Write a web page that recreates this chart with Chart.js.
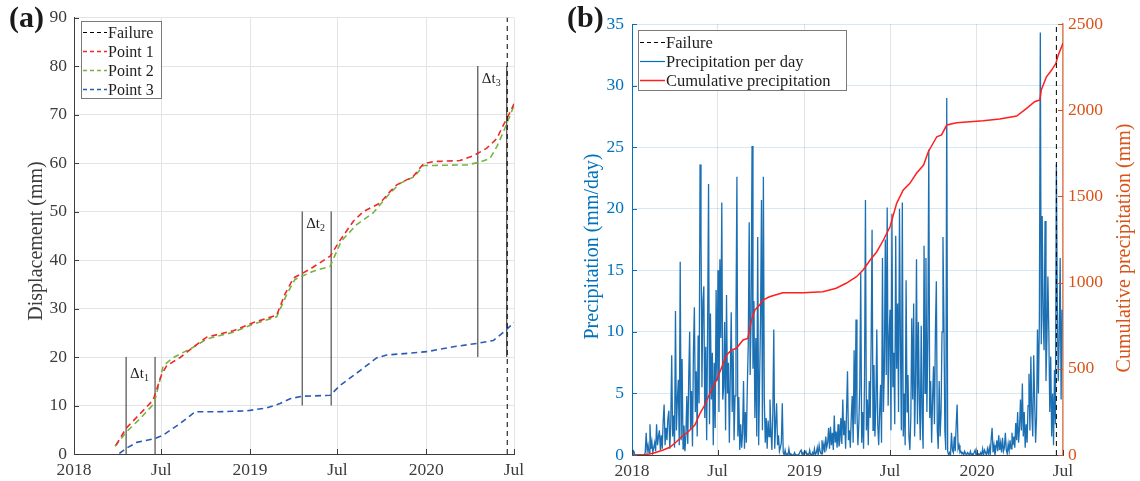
<!DOCTYPE html>
<html>
<head>
<meta charset="utf-8">
<script src="https://cdn.jsdelivr.net/npm/chart.js@4.4.1/dist/chart.umd.min.js"></script>
<style>
  html, body { margin: 0; padding: 0; background: #fff; }
  #wrap { position: relative; width: 1140px; height: 481px; }
  #chartA { position: absolute; left: 0; top: 0; }
  #chartB { position: absolute; left: 560px; top: 0; }
</style>
</head>
<body>
<div id="wrap">
  <canvas id="chartA" width="560" height="481"></canvas>
  <canvas id="chartB" width="580" height="481"></canvas>
</div>
<script>
// x values are days since 2018-01-01
const tickDays = [0, 181, 365, 546, 730, 912];
const tickLabels = ['2018', 'Jul', '2019', 'Jul', '2020', 'Jul'];
const failureDay = 898;

// (a) displacement (mm)
const p1Days = [87, 108, 137, 164, 182, 192, 220, 247, 275, 330, 372, 420, 437, 455, 489, 531, 551, 579, 600, 634, 655, 669, 703, 714, 724, 745, 800, 828, 855, 876, 890, 904, 912];
const p1Values = [1.8, 5.3, 8.3, 11.1, 16.5, 18.2, 19.9, 22.0, 24.1, 25.4, 27.1, 28.6, 32.9, 36.3, 38.1, 40.8, 44.0, 48.0, 50.0, 51.7, 54.1, 55.5, 57.2, 58.6, 59.8, 60.3, 60.5, 61.5, 63.0, 65.0, 67.8, 70.5, 72.2];
const p2Days = [85, 109, 137, 166, 178, 185, 206, 247, 275, 330, 372, 420, 441, 458, 496, 531, 554, 586, 620, 655, 676, 706, 724, 745, 814, 838, 862, 876, 890, 904, 912];
const p2Values = [1.6, 4.6, 7.3, 10.4, 15.2, 18.2, 19.9, 22.0, 23.7, 25.1, 26.8, 28.3, 32.9, 36.0, 37.7, 38.7, 43.9, 47.3, 49.7, 53.8, 55.8, 57.2, 59.5, 59.5, 59.6, 60.1, 60.9, 63.3, 66.4, 69.8, 71.9];
const p3Days = [94, 109, 130, 168, 185, 220, 251, 296, 358, 399, 427, 448, 472, 531, 551, 593, 627, 648, 696, 731, 786, 835, 869, 890, 912];
const p3Values = [0.1, 1.2, 2.4, 3.2, 3.9, 6.3, 8.7, 8.7, 8.9, 9.5, 10.4, 11.4, 11.9, 12.1, 14.1, 17.2, 19.8, 20.4, 20.8, 21.1, 22.1, 22.8, 23.4, 25.1, 27.1];

// delta-t markers
const dtStart = [108, 473, 837];
const dtEnd = [168, 533, 897];
const dtLow = [0, 10, 20];
const dtHigh = [20, 50, 80];
const dtLabelBase = [15.6, 46.6, 76.5];
const dtNames = ['1', '2', '3'];

// (b) precipitation per day (mm/day), one value every 2 days from 2018-01-01
const precipStepDays = 2;
const precipValues = [
  0, 0.4, 0.3, 0, 0, 0, 0, 0, 0, 0, 0, 0, 0, 0, 0.2,
  1.8, 0.3, 0.8, 0.2, 2.5, 0.5, 1.1, 0.2, 0.6, 1.0, 0.3, 2.5, 0.8, 1.5, 2.0,
  0.4, 1.6, 0.5, 2.8, 4.1, 0.8, 2.2, 1.2, 3.0, 3.6, 0.5, 2.5, 8.1, 1.5, 3.2,
  0.6, 11.7, 2.0, 4.5, 6.1, 0.8, 15.7, 1.2, 7.8, 0.5, 2.4, 0.3, 1.6, 4.8, 0.9,
  6.2, 10.0, 2.1, 5.2, 0.7, 8.5, 12.0, 3.5, 6.8, 1.5, 9.7, 4.2, 23.6, 18.0, 5.5,
  12.5, 13.7, 3.0, 8.8, 1.2, 10.5, 22.0, 2.5, 11.5, 4.5, 8.3, 0.8, 7.5, 2.2, 13.4,
  6.0, 15.0, 3.5, 15.9, 9.5, 20.5, 4.5, 5.5, 10.8, 2.0, 13.0, 5.0, 7.5, 1.0, 6.5,
  11.6, 3.5, 8.5, 1.2, 4.8, 11.0, 22.6, 1.5, 4.7, 0.4, 2.5, 0.6, 1.8, 6.0, 0.5,
  3.5, 1.0, 5.5, 9.0, 18.9, 6.5, 11.0, 25.1, 7.0, 12.5, 3.0, 9.5, 1.5, 17.7, 0.8,
  6.0, 11.0, 20.7, 2.0, 22.6, 4.5, 1.0, 3.0, 0.5, 2.8, 1.5, 4.5, 2.0, 0.4, 3.5,
  10.2, 0.5, 2.5, 4.2, 0.8, 1.6, 0.3, 0.6, 1.0, 4.2, 0.2, 0, 0.4, 0, 0.1,
  0, 0.5, 0, 0.1, 0, 0, 0, 0.2, 0, 0, 0, 0, 0.1, 0.3, 0.4,
  0, 0.2, 0, 0, 0.3, 0, 0.1, 0, 0.4, 0, 0, 0.2, 0, 0.5, 0,
  0.2, 0.6, 0, 0.8, 0.3, 0.1, 1.2, 0.4, 0.9, 0.2, 1.5, 0.6, 1.0, 2.2, 0.5,
  2.3, 0.8, 1.8, 0.4, 3.2, 1.0, 1.9, 0.6, 2.5, 0.7, 1.2, 3.0, 0.9, 4.5, 1.6,
  2.8, 0.5, 3.5, 6.8, 1.2, 2.0, 0.6, 3.1, 4.8, 1.0, 8.5, 2.5, 11.0, 3.5, 0.8,
  2.5, 5.5, 14.8, 1.0, 3.5, 0.5, 6.0, 20.7, 2.0, 4.5, 0.8, 6.0, 3.0, 9.0, 18.3,
  2.0, 7.3, 1.5, 4.0, 10.2, 2.5, 0.8, 3.5, 5.7, 1.0, 16.0, 3.5, 7.0, 17.5, 6.5,
  20.1, 4.0, 9.5, 11.8, 2.0, 19.6, 5.5, 8.3, 2.5, 17.8, 7.0, 12.3, 3.5, 20.0, 9.0,
  2.0, 20.5, 1.5, 5.0, 0.8, 14.2, 3.5, 6.5, 1.5, 0.4, 3.0, 11.1, 4.5, 12.3, 1.5,
  6.0, 15.9, 2.5, 10.8, 4.5, 1.2, 10.5, 3.0, 0.5, 17.0, 5.0, 16.0, 3.5, 9.5, 24.8,
  3.0, 6.0, 1.0, 4.5, 7.2, 2.5, 10.0, 14.1, 2.0, 0.5, 6.0, 1.5, 3.5, 10.0, 17.7,
  11.1, 2.0, 0.4, 29.0, 0.3, 0, 0.2, 0, 1.8, 0.4, 0.2, 1.5, 0.3, 2.5, 4.1,
  0.5, 0.8, 0.2, 0.3, 0.1, 0.2, 0, 0.3, 0.1, 0, 0.2, 0.1, 0, 0.3, 0,
  0.1, 0, 0.2, 0.4, 0, 0.3, 0, 0.1, 0, 0.2, 0, 0.5, 0, 0.4, 0.2,
  0, 0.5, 0.1, 0.6, 0, 1.3, 2.2, 0.2, 0.8, 0, 0.5, 1.2, 0.3, 1.6, 0.4,
  1.0, 0.2, 1.4, 0.3, 0.6, 1.8, 0.4, 0.1, 0.9, 0.3, 1.2, 0.5, 1.8, 0.8, 1.5,
  0.6, 2.6, 1.2, 3.5, 1.0, 2.2, 4.5, 2.0, 5.8, 1.5, 3.5, 0.6, 2.5, 1.0, 4.0,
  6.6, 2.0, 8.0, 3.5, 1.5, 8.1, 4.5, 1.0, 3.0, 10.2, 5.0, 11.0, 34.3, 9.0, 19.4,
  11.0, 8.5, 19.0, 6.0, 9.5, 14.5, 10.0, 3.5, 8.0, 1.5, 5.0, 0.8, 6.9, 2.5, 23.6,
  12.0, 6.0, 9.5, 16.0, 4.5, 11.8
];

// (b) cumulative precipitation (mm)
const cumDays = [0, 25, 45, 66, 80, 94, 105, 119, 133, 144, 154, 165, 179, 189, 200, 211, 221, 235, 245, 252, 260, 270, 277, 291, 319, 362, 404, 432, 453, 475, 489, 504, 518, 532, 546, 560, 574, 588, 602, 617, 627, 645, 655, 666, 687, 743, 778, 814, 835, 852, 863, 866, 877, 888, 897, 902, 912];
const cumValues = [0, 0, 10, 29, 45, 77, 106, 135, 174, 242, 290, 358, 435, 503, 580, 609, 619, 667, 676, 773, 841, 870, 899, 918, 941, 941, 947, 967, 996, 1034, 1073, 1131, 1179, 1247, 1324, 1460, 1537, 1576, 1634, 1682, 1759, 1846, 1857, 1914, 1927, 1939, 1949, 1966, 2011, 2049, 2059, 2117, 2194, 2233, 2272, 2320, 2388];

// ---- styling ----
const serif = '"Liberation Serif", "Times New Roman", serif';
const axisGray = '#3c3c3c';
const gridGray = '#e4e4e4';
const blue = '#0072BD';
const orange = '#D95319';
const tickFont = { family: serif, size: 17.5 };

const xy = (xs, ys) => xs.map((x, i) => ({ x: x, y: ys[i] }));

function lineSet(label, data, color, width, dash, extra) {
  return Object.assign({
    label: label, data: data, borderColor: color, backgroundColor: color,
    borderWidth: width, borderDash: dash || [], pointRadius: 0, tension: 0, fill: false
  }, extra || {});
}

function xScale(height) {
  return {
    type: 'linear', min: 0, max: 912,
    afterBuildTicks: a => { a.ticks = tickDays.map(v => ({ value: v })); },
    afterFit: s => { s.height = height; },
    ticks: { autoSkip: false, maxRotation: 0, padding: 6, color: axisGray, font: tickFont,
             callback: v => tickLabels[tickDays.indexOf(v)] },
    grid: { color: gridGray, drawTicks: false },
    border: { color: axisGray, width: 1 }
  };
}

function inwardTicks(chart, specs) {
  const ctx = chart.ctx, a = chart.chartArea;
  specs.forEach(s => {
    const sc = chart.scales[s.id];
    ctx.save();
    ctx.strokeStyle = s.color;
    ctx.lineWidth = 1;
    ctx.beginPath();
    sc.ticks.forEach(t => {
      const p = Math.round(sc.getPixelForValue(t.value)) + 0.5;
      if (s.side === 'bottom') { ctx.moveTo(p, a.bottom); ctx.lineTo(p, a.bottom - 5); }
      else if (s.side === 'left') { ctx.moveTo(a.left, p); ctx.lineTo(a.left + 5, p); }
      else { ctx.moveTo(a.right, p); ctx.lineTo(a.right - 5, p); }
    });
    ctx.stroke();
    ctx.restore();
  });
}

function vTitle(ctx, text, x, y, color) {
  ctx.save();
  ctx.translate(x, y);
  ctx.rotate(-Math.PI / 2);
  ctx.font = '20px ' + serif;
  ctx.fillStyle = color;
  ctx.textAlign = 'center';
  ctx.textBaseline = 'alphabetic';
  ctx.fillText(text, 0, 0);
  ctx.restore();
}

function panelLabel(ctx, text, x, y) {
  ctx.save();
  ctx.font = 'bold 30px ' + serif;
  ctx.fillStyle = '#1a1a1a';
  ctx.textBaseline = 'alphabetic';
  ctx.fillText(text, x, y);
  ctx.restore();
}

function drawLegend(ctx, box, items, font) {
  ctx.save();
  ctx.fillStyle = '#fff';
  ctx.fillRect(box.x, box.y, box.w, box.h);
  ctx.strokeStyle = '#7a7a7a';
  ctx.lineWidth = 1;
  ctx.strokeRect(box.x + 0.5, box.y + 0.5, box.w, box.h);
  ctx.font = font + 'px ' + serif;
  ctx.textBaseline = 'middle';
  items.forEach((it, i) => {
    const y = box.y + box.first + i * box.step;
    ctx.strokeStyle = it.color;
    ctx.lineWidth = it.width;
    ctx.setLineDash(it.dash || []);
    ctx.beginPath();
    ctx.moveTo(box.x + 2, y);
    ctx.lineTo(box.x + box.sample, y);
    ctx.stroke();
    ctx.setLineDash([]);
    ctx.fillStyle = '#1e1e1e';
    ctx.fillText(it.text, box.x + box.sample + 1, y + 1);
  });
  ctx.restore();
}

// ---- (a) displacement ----
const dtSets = [];
dtStart.forEach((d, i) => {
  dtSets.push(lineSet('dt' + i + 'a', xy([d, d], [dtLow[i], dtHigh[i]]), '#2b2b2b', 1));
  dtSets.push(lineSet('dt' + i + 'b', xy([dtEnd[i], dtEnd[i]], [dtLow[i], dtHigh[i]]), '#2b2b2b', 1));
});

const decorA = {
  id: 'decorA',
  afterDraw(chart) {
    const ctx = chart.ctx;
    const sx = chart.scales.x, sy = chart.scales.y;
    inwardTicks(chart, [{ id: 'x', side: 'bottom', color: axisGray }, { id: 'y', side: 'left', color: axisGray }]);
    vTitle(ctx, 'Displacement (mm)', 42, 241, axisGray);
    panelLabel(ctx, '(a)', 9, 27);
    // delta-t labels
    ctx.save();
    ctx.fillStyle = '#1e1e1e';
    ctx.textBaseline = 'alphabetic';
    dtStart.forEach((d, i) => {
      const x = sx.getPixelForValue(d) + 4;
      const y = sy.getPixelForValue(dtLabelBase[i]);
      ctx.font = '15px ' + serif;
      ctx.fillText('\u0394t', x, y);
      const w = ctx.measureText('\u0394t').width;
      ctx.font = '10px ' + serif;
      ctx.fillText(dtNames[i], x + w, y + 3);
    });
    ctx.restore();
    drawLegend(ctx, { x: 81, y: 21, w: 80, h: 77, first: 11.5, step: 19, sample: 26 }, [
      { text: 'Failure', color: '#000', width: 1, dash: [4, 3] },
      { text: 'Point 1', color: '#f02828', width: 1.5, dash: [4, 3] },
      { text: 'Point 2', color: '#77b340', width: 1.5, dash: [4, 3] },
      { text: 'Point 3', color: '#2a5cb5', width: 1.5, dash: [4, 3] }
    ], 16);
  }
};

new Chart(document.getElementById('chartA'), {
  type: 'line',
  data: {
    datasets: [
      lineSet('Failure', xy([failureDay, failureDay], [0, 90]), '#000', 1, [5, 4]),
      lineSet('Point 1', xy(p1Days, p1Values), '#f02828', 1.6, [6, 4]),
      lineSet('Point 2', xy(p2Days, p2Values), '#77b340', 1.6, [6, 4]),
      lineSet('Point 3', xy(p3Days, p3Values), '#2a5cb5', 1.6, [6, 4])
    ].concat(dtSets)
  },
  options: {
    animation: false,
    responsive: false,
    events: [],
    layout: { padding: { top: 15, right: 46, left: 0, bottom: 0 } },
    plugins: { legend: { display: false }, tooltip: { enabled: false } },
    scales: {
      x: xScale(27),
      y: {
        min: 0, max: 90,
        afterFit: s => { s.width = 74; },
        ticks: { stepSize: 10, padding: 7, color: axisGray, font: tickFont },
        grid: { color: gridGray, drawTicks: false },
        border: { color: axisGray, width: 1 }
      }
    }
  },
  plugins: [decorA]
});

// ---- (b) precipitation ----
const precipPoints = precipValues.map((v, i) => ({ x: i * precipStepDays, y: v }));

const decorB = {
  id: 'decorB',
  afterDraw(chart) {
    const ctx = chart.ctx;
    inwardTicks(chart, [
      { id: 'x', side: 'bottom', color: axisGray },
      { id: 'y', side: 'left', color: blue },
      { id: 'y1', side: 'right', color: orange }
    ]);
    vTitle(ctx, 'Precipitation (mm/day)', 38, 246.5, blue);
    vTitle(ctx, 'Cumulative precipitation (mm)', 570, 248, orange);
    panelLabel(ctx, '(b)', 7, 27);
    drawLegend(ctx, { x: 78, y: 30, w: 208, h: 60, first: 12.5, step: 19, sample: 27 }, [
      { text: 'Failure', color: '#000', width: 1, dash: [4, 3] },
      { text: 'Precipitation per day', color: blue, width: 1.2 },
      { text: 'Cumulative precipitation', color: '#ff1f1f', width: 1.5 }
    ], 16.5);
  }
};

new Chart(document.getElementById('chartB'), {
  type: 'line',
  data: {
    datasets: [
      lineSet('Failure', xy([failureDay, failureDay], [0, 35]), '#000', 1, [5, 4], { yAxisID: 'y' }),
      lineSet('Cumulative precipitation', xy(cumDays, cumValues), '#ff1f1f', 1.5, [], { yAxisID: 'y1' }),
      lineSet('Precipitation per day', precipPoints, '#1b6fb3', 1.3, [], { yAxisID: 'y' })
    ]
  },
  options: {
    animation: false,
    responsive: false,
    events: [],
    layout: { padding: { top: 24, right: 0, left: 0, bottom: 0 } },
    plugins: { legend: { display: false }, tooltip: { enabled: false } },
    scales: {
      x: xScale(26),
      y: {
        position: 'left', min: 0, max: 35,
        afterFit: s => { s.width = 72; },
        ticks: { stepSize: 5, padding: 8, color: blue, font: tickFont },
        grid: { color: 'rgba(0,114,189,0.16)', drawTicks: false },
        border: { color: blue, width: 1 }
      },
      y1: {
        position: 'right', min: 0, max: 2500,
        afterFit: s => { s.width = 77; },
        ticks: { stepSize: 500, padding: 5, color: orange, font: tickFont, callback: v => String(v) },
        grid: { drawOnChartArea: false, drawTicks: false },
        border: { color: 'rgba(217,83,25,0.7)', width: 1.5 }
      }
    }
  },
  plugins: [decorB]
});
</script>
</body>
</html>
